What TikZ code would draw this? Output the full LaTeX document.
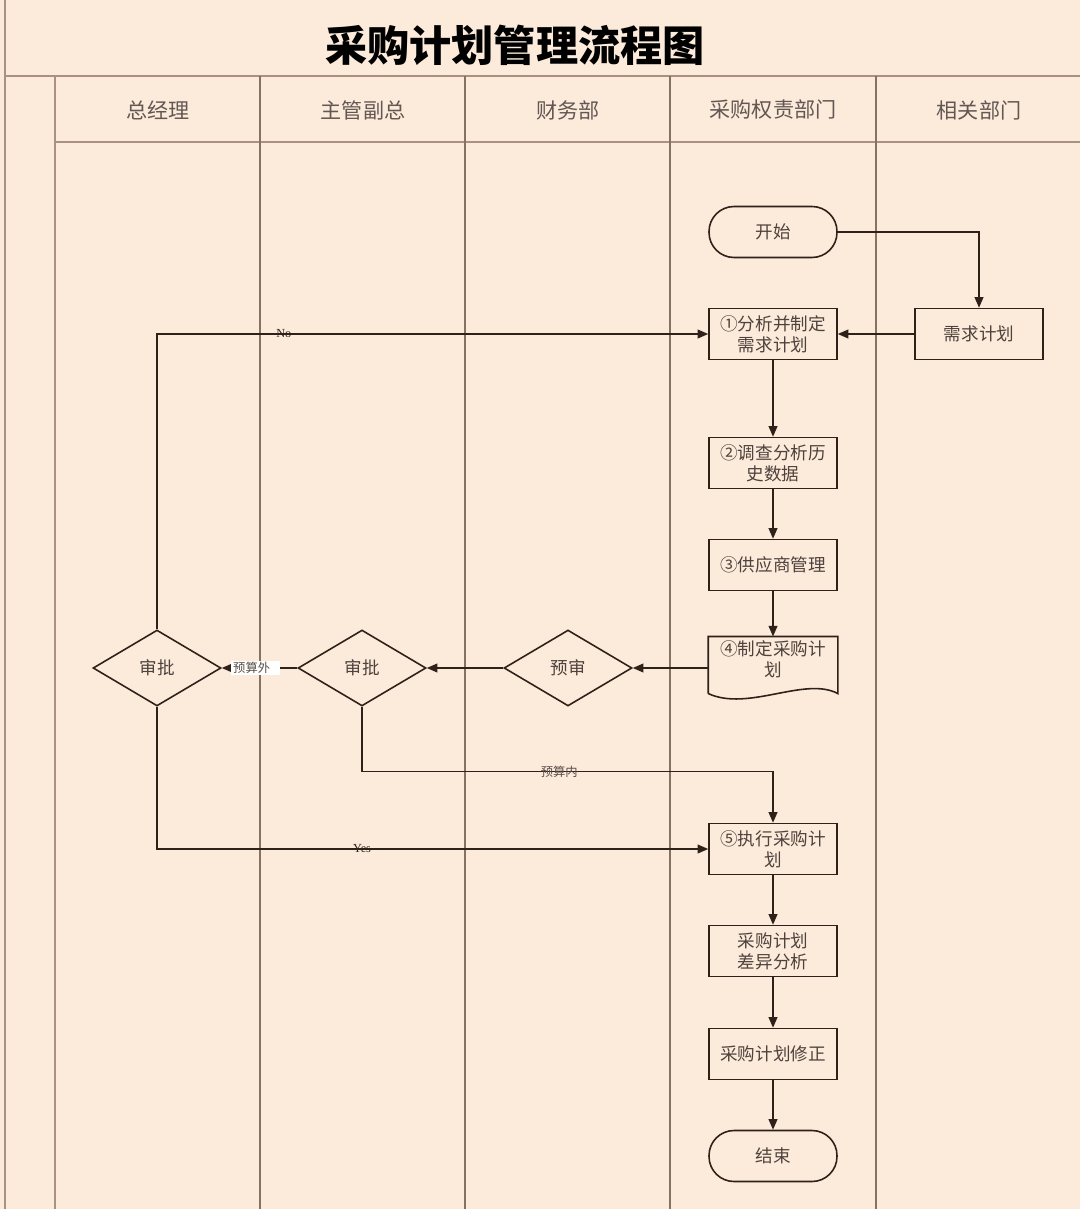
\documentclass[tikz,border=0pt]{standalone}
\usepackage{fontspec}
\setmainfont{Noto Sans CJK SC}
\newfontfamily\latinserif{Liberation Serif}
\usetikzlibrary{arrows.meta,positioning,shapes.geometric}
\definecolor{peach}{HTML}{FCEADB}
\definecolor{ink}{HTML}{2E211A}
\definecolor{lanegray}{HTML}{85725F}
\definecolor{edgegray}{HTML}{A8927F}
\tikzset{
  procbox/.style={
    rectangle, draw=ink, line width=0.9pt,
    minimum width=2.56cm, minimum height=1.02cm,
    font=\fontsize{10}{12}\selectfont, text=ink!85, align=center,
    inner sep=2pt
  },
  termbox/.style={procbox, rounded corners=0.5cm},
  docbox/.style={procbox, draw=none, minimum height=1.08cm, text depth=0.25cm},
  decbox/.style={
    diamond, draw=ink, line width=0.9pt,
    minimum width=2.56cm, minimum height=1.52cm,
    font=\fontsize{10}{12}\selectfont, text=ink!85, inner sep=0pt
  },
  lanehead/.style={font=\fontsize{12}{14}\selectfont, text=ink!75},
  laneline/.style={draw=#1, line width=0.8pt},
  laneline/.default=lanegray,
  flow/.style={-{Triangle[length=6pt,width=5pt]}, line width=0.8pt, draw=ink},
  edgelabel/.style={font=\latinserif\fontsize{7}{8}\selectfont, text=ink, inner sep=1pt},
  cjklabel/.style={font=\fontsize{7}{8}\selectfont, text=ink!80, inner sep=1pt},
}

\begin{document}
\begin{tikzpicture}[x=0.02cm, y=-0.02cm]
  % page and frame
  \fill[peach] (0,0) rectangle (1080,1209);
  \useasboundingbox (0,0) rectangle (1080,1209);
  \draw[laneline=edgegray] (5,0) -- (5,1209);
  \draw[laneline=edgegray] (5,76) -- (1080,76);
  \draw[laneline=edgegray] (55,76) -- (55,1209);
  \draw[laneline=edgegray] (55,142) -- (1080,142);
  \foreach \x in {260,465,670,876}
    \draw[laneline] (\x,76) -- (\x,1209);

  % title and lane heads
  \node[font=\fontsize{24}{28}\selectfont\bfseries, text=black] (title) at (515,45) {采购计划管理流程图};
  \foreach \x/\t [count=\i] in {158/总经理, 363/主管副总, 568/财务部, 773/采购权责部门, 979/相关部门}
    \node[lanehead] (lane\i) at (\x,110) {\t};

  % main column
  \node[termbox] (start) at (773,232) {开始};
  \node[procbox] (req1) at (773,334) {①分析并制定\\需求计划};
  \node[procbox] (need) at (979,334) {需求计划};
  \node[procbox] (hist2) at (773,463) {②调查分析历\\史数据};
  \node[procbox] (supp3) at (773,565) {③供应商管理};
  \node[docbox] (plan4) at (773,665) {④制定采购计\\划};
  \draw[draw=ink, line width=0.9pt] (plan4.south west) -- (plan4.north west) -- (plan4.north east) -- (plan4.south east)
    .. controls (805,676) and (748,712) .. (plan4.south west);
  \node[procbox] (exec5) at (773,849) {⑤执行采购计\\划};
  \node[procbox] (diff) at (773,951) {采购计划\\差异分析};
  \node[procbox] (fix) at (773,1054) {采购计划修正};
  \node[termbox] (stop) at (773,1156) {结束};

  % decisions
  \node[decbox] (pre) at (568,668) {预审};
  \node[decbox] (appr2) at (362,668) {审批};
  \node[decbox] (appr1) at (157,668) {审批};

  % flow
  \draw[flow] (start.east) -| (need.north);
  \draw[flow] (need.west) -- (req1.east);
  \draw[flow] (req1) -- (hist2);
  \draw[flow] (hist2) -- (supp3);
  \draw[flow] (supp3) -- (plan4.north);
  \draw[flow] (plan4.west |- pre.east) -- (pre.east);
  \draw[flow] (pre.west) -- (appr2.east);
  \draw[flow] (appr2.west) -- node[cjklabel, pos=0.55, fill=white, text width=0.9cm, align=left] {预算外} (appr1.east);
  \draw[flow] (appr2.south) -- ++(0,65) -| node[cjklabel, pos=0.24] {预算内} (exec5.north);
  \draw[flow] (appr1.north) |- node[edgelabel, pos=0.615] {No} (req1.west);
  \draw[flow] (appr1.south) |- node[edgelabel, pos=0.686] {Yes} (exec5.west);
  \draw[flow] (exec5) -- (diff);
  \draw[flow] (diff) -- (fix);
  \draw[flow] (fix) -- (stop);
\end{tikzpicture}
\end{document}
